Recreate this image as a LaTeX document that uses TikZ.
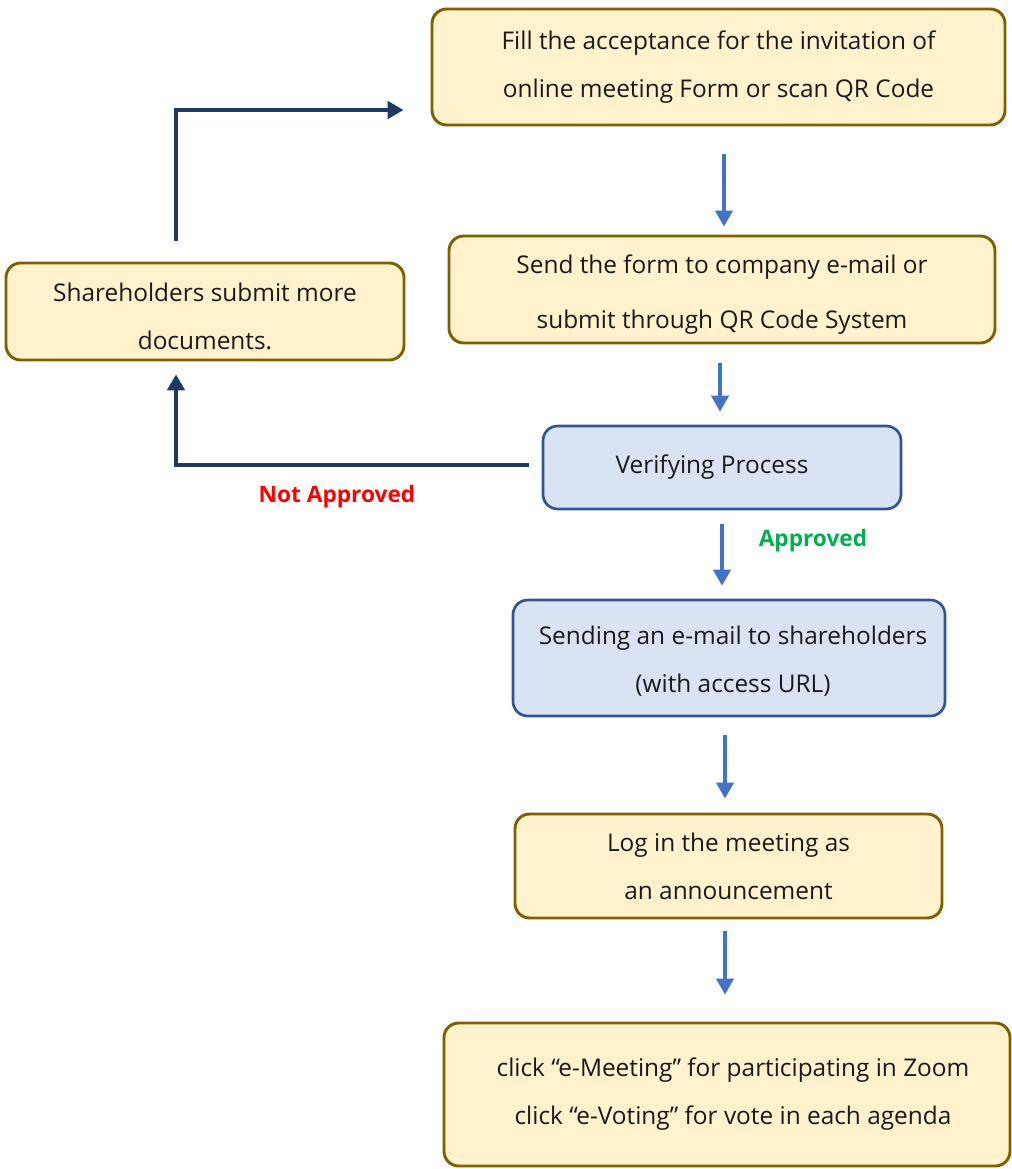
\documentclass[tikz,border=0pt]{standalone}
\usepackage{fontspec}
\setmainfont{Open Sans}
\usetikzlibrary{arrows.meta,calc}
\definecolor{yfill}{HTML}{FFF2CC}
\definecolor{ydraw}{HTML}{7F6000}
\definecolor{bfill}{HTML}{DAE3F3}
\definecolor{bdraw}{HTML}{2F5597}
\definecolor{arrblue}{HTML}{4472C4}
\definecolor{arrnavy}{HTML}{203864}
\definecolor{okgreen}{HTML}{00B050}
\definecolor{txt}{HTML}{1A1A1A}
\tikzset{
  ybox/.style={draw=ydraw, fill=yfill, line width=2.2pt, rounded corners=11pt, align=center, text=txt, font=\fontsize{18.3}{36}\selectfont, inner sep=0pt},
  bbox/.style={draw=bdraw, fill=bfill, line width=2pt, rounded corners=11pt, align=center, text=txt, font=\fontsize{18.3}{36}\selectfont, inner sep=0pt},
  bluearrow/.style={draw=arrblue, line width=2.4pt, -{Triangle[width=13pt,length=12pt]}},
  navyarrow/.style={draw=arrnavy, line width=3pt, -{Triangle[width=13pt,length=12pt]}},
  lbl/.style={font=\fontsize{17}{20}\selectfont\bfseries}
}
\begin{document}
\begin{tikzpicture}[x=0.75pt,y=-0.75pt]
\useasboundingbox (0,0) rectangle (1011,1169);
\node[ybox, minimum width=573*0.75pt, minimum height=116*0.75pt] (b1) at (718.5,67) {Fill the acceptance for the invitation of\\online meeting Form or scan QR Code};
\node[ybox, minimum width=546*0.75pt, minimum height=107*0.75pt, font=\fontsize{18.3}{41}\selectfont] (b2) at (722,289.5) {\rule{0pt}{22pt}Send the form to company e-mail or\\submit through QR Code System};
\node[ybox, minimum width=398*0.75pt, minimum height=97*0.75pt] (sh) at (205,311.5) {\rule{0pt}{21pt}Shareholders submit more\\documents.};
\node[bbox, minimum width=358*0.75pt, minimum height=83*0.75pt] (ver) at (722,467.5) {\hspace*{-15pt}Verifying Process};
\node[bbox, minimum width=432*0.75pt, minimum height=116*0.75pt] (send) at (729,658) {\rule{0pt}{19pt}\hspace*{6pt}Sending an e-mail to shareholders\\\hspace*{6pt}(with access URL)};
\node[ybox, minimum width=427*0.75pt, minimum height=104*0.75pt] (log) at (728.5,866) {Log in the meeting as\\an announcement};
\node[ybox, minimum width=566*0.75pt, minimum height=143*0.75pt] (clk) at (727,1094.5) {\hspace*{9pt}click “e-Meeting” for participating in Zoom\\\hspace*{9pt}click “e-Voting” for vote in each agenda};

\draw[bluearrow] ($(b1.south)+(5.5,28)$) -- ($(b2.north)+(2,-8)$);
\draw[bluearrow] ($(b2.south)+(-2,19)$) -- ($(ver.north)+(-2,-13)$);
\draw[bluearrow] ($(ver.south)+(0,14)$) -- ($(send.north)+(-7,-13)$);
\draw[bluearrow] ($(send.south)+(-4,18)$) -- ($(log.north)+(-3.5,-14)$);
\draw[bluearrow] ($(log.south)+(-3.5,12)$) -- ($(clk.north)+(-2,-27)$);

\coordinate (nvA) at ($(ver.west)+(-13,-2.5)$);
\coordinate (nvB) at ($(sh.south)+(-29,13)$);
\draw[navyarrow] (nvA) -- (nvA -| nvB) -- (nvB);
\coordinate (nvC) at ($(sh.north)+(-29,-21)$);
\coordinate (nvD) at ($(b1.west)+(-27,43)$);
\draw[navyarrow] (nvC) -- (nvC |- nvD) -- (nvD);

\node[lbl, text=red] (na) at (337,497) {Not Approved};
\node[lbl, text=okgreen] (ap) at (813,541) {Approved};
\end{tikzpicture}
\end{document}
